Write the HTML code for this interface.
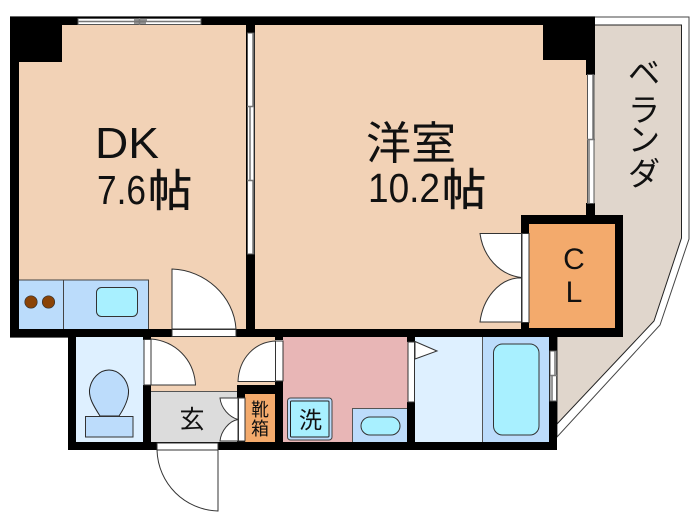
<!DOCTYPE html>
<html lang="ja">
<head>
<meta charset="utf-8">
<title>Floor plan</title>
<style>
html,body{margin:0;padding:0;background:#fff;width:700px;height:525px;overflow:hidden}
svg{display:block}
text{font-family:"Liberation Sans","Noto Sans CJK JP",sans-serif;fill:#111}
.j{font-family:"Noto Sans CJK JP","Liberation Sans",sans-serif}
</style>
</head>
<body>
<svg width="700" height="525" viewBox="0 0 700 525" xmlns="http://www.w3.org/2000/svg">
<rect width="700" height="525" fill="#fff"/>

<!-- balcony -->
<path d="M595 17H689V239L660 325L557 437V17Z" fill="#fff" stroke="#444" stroke-width="1"/>
<path d="M595 25H681.500V238L654 321L557 424V25Z" fill="#e0d6cc" stroke="#222" stroke-width="1"/>

<!-- rooms -->
<rect x="19" y="25" width="228" height="305" fill="#f2d2b6"/>
<rect x="254" y="25" width="333" height="305" fill="#f2d2b6"/>
<rect x="529" y="224" width="86" height="104" fill="#f3aa6c"/>
<rect x="75" y="337" width="69" height="105" fill="#def0ff"/>
<rect x="151" y="337" width="125" height="55" fill="#f2d2b6"/>
<rect x="151" y="391" width="87" height="51" fill="#dcdcdc"/>
<line x1="151" y1="391.500" x2="238" y2="391.500" stroke="#555"/>
<rect x="245" y="394" width="30" height="48" fill="#f3aa6c"/>
<rect x="283" y="337" width="125" height="105" fill="#e8b6b6"/>
<rect x="415" y="337" width="68" height="105" fill="#def0ff"/>
<rect x="482" y="337" width="67" height="105" fill="#bcdcfb"/>
<line x1="482.500" y1="337" x2="482.500" y2="442" stroke="#555" stroke-width="1"/>

<!-- walls -->
<g fill="#000">
<rect x="10" y="17" width="585" height="8"/>
<rect x="10" y="17" width="9" height="320"/>
<rect x="10" y="17" width="52" height="45"/>
<rect x="543" y="17" width="52" height="43"/>
<rect x="586" y="17" width="9" height="58"/>
<rect x="586" y="203" width="9" height="13"/>
<rect x="246" y="25" width="9" height="305"/>
<rect x="10" y="329" width="520" height="8"/>
<path d="M521 215H623V337H521ZM529 224V328H615V224Z" fill-rule="evenodd"/>
<rect x="68" y="337" width="8" height="113"/>
<rect x="68" y="442" width="489" height="8"/>
<rect x="143" y="385" width="8" height="65"/>
<rect x="237" y="385" width="46" height="9"/>
<rect x="237" y="385" width="8" height="13"/>
<rect x="237" y="441" width="8" height="9"/>
<rect x="275" y="381" width="8" height="69"/>
<rect x="407" y="402" width="8" height="48"/>
<rect x="407" y="337" width="8" height="5"/>
<rect x="549" y="337" width="8" height="113"/>
<rect x="143" y="337" width="8" height="3"/>
<rect x="275" y="337" width="8" height="3"/>
</g>
<line x1="10" y1="16.500" x2="595" y2="16.500" stroke="#666"/>
<line x1="10" y1="337.500" x2="68" y2="337.500" stroke="#666"/>

<!-- windows -->
<g fill="#fff" stroke="#555" stroke-width="1">
<rect x="78" y="18.500" width="123" height="6"/>
<rect x="247.500" y="33" width="6.500" height="221"/>
<rect x="587.500" y="74.500" width="6.500" height="129"/>
<rect x="550" y="351" width="6.500" height="50"/>
</g>
<g stroke="#777" stroke-width="1.500" fill="none">
<path d="M78 21.500H139M140 21.500H201"/>
<path d="M139.500 18V25M134 20H147M134 23H146"/>
<path d="M253 33V106M250 107V180M253 180V254"/>
<path d="M247 106.500H254M247 180.500H254"/>
<path d="M593 75V139M589 139V203M587 139.500H595"/>
<path d="M555 351V376M552 376V401M550 375.500H557"/>
</g>

<!-- kitchen -->
<rect x="19" y="280" width="129" height="49" fill="#bbdcfb"/>
<path d="M19 280H148.500V329M63.500 280V329" fill="none" stroke="#444" stroke-width="1"/>
<circle cx="31" cy="302" r="6.200" fill="#8a4306" stroke="#333" stroke-width="0.700"/>
<circle cx="48.500" cy="302" r="6.200" fill="#8a4306" stroke="#333" stroke-width="0.700"/>
<rect x="96.500" y="287.500" width="41" height="29" rx="5" fill="#a8f0ff" stroke="#333" stroke-width="1"/>

<!-- doors -->
<g fill="#fff" stroke="#333" stroke-width="1">
<rect x="172" y="329.500" width="64" height="7"/>
<path d="M172 329V269C205 270 234 296 236 329Z"/>
<rect x="144" y="339.500" width="7" height="45.500"/>
<path d="M151 385V339C175 341 194 359 195.500 385Z"/>
<rect x="275.500" y="341" width="7.500" height="40"/>
<path d="M275.500 381.500V341C255 342 239 358 238 381.500Z"/>
<rect x="408" y="342" width="6.500" height="60"/>
<path d="M415 341.500L437 351L415 359Z"/>
<rect x="522" y="233.500" width="7" height="89"/>
<path d="M521.500 233.500H480C483 256 499 275 521.500 277.500Z"/>
<path d="M521.500 278H517C499 280 483 298 480 322H521.500Z"/>
<rect x="238.500" y="398" width="6.500" height="43"/>
<path d="M238 398H220C221 408 229 417 238 419.500Z"/>
<path d="M238 419.500C229 421 221 431 220 441H238Z"/>
<rect x="157" y="443" width="61" height="7"/>
<path d="M218 450V511C185 510 158 484 157 450Z"/>
</g>

<!-- toilet -->
<path d="M100 416C93 405 89 398 89.500 390C91 378 100 370 109 370C118 370 127 378 128.500 390C129 398 125 407 119 416Z" fill="#bcdcfb" stroke="#222" stroke-width="1"/>
<rect x="85.500" y="416.500" width="47.500" height="20.500" fill="#bcdcfb" stroke="#333" stroke-width="1"/>

<!-- washer and basin -->
<rect x="287.500" y="398" width="44.500" height="42" rx="3" fill="#bcdcfb" stroke="#444" stroke-width="1"/>
<rect x="290.500" y="401" width="38.500" height="36" rx="1" fill="#a8f0ff" stroke="#222" stroke-width="1"/>
<rect x="352.500" y="408.500" width="54.500" height="33.500" fill="#bcdcfb"/>
<path d="M352.500 442V408.500H407" fill="none" stroke="#555" stroke-width="1"/>
<rect x="361" y="417" width="39" height="18" rx="9" fill="#a8f0ff" stroke="#333" stroke-width="1"/>

<!-- bath -->
<rect x="493.500" y="344" width="45.500" height="91" rx="9" fill="#a8f0ff" stroke="#333" stroke-width="1"/>

<!-- labels -->
<text x="95" y="158" font-size="44" textLength="64" lengthAdjust="spacingAndGlyphs">DK</text>
<text x="97" y="204" font-size="41" textLength="49" lengthAdjust="spacingAndGlyphs">7.6</text>
<text class="j" x="148" y="206" font-size="44" stroke="#111" stroke-width="0.600">帖</text>
<text class="j" x="366" y="159" font-size="45">洋室</text>
<text x="368" y="202" font-size="41" textLength="72" lengthAdjust="spacingAndGlyphs">10.2</text>
<text class="j" x="442" y="205" font-size="44" stroke="#111" stroke-width="0.600">帖</text>
<text class="j" x="644" y="84" font-size="32" text-anchor="middle">ベ</text>
<text class="j" x="644" y="121" font-size="32" text-anchor="middle">ラ</text>
<text class="j" x="644" y="151" font-size="32" text-anchor="middle">ン</text>
<text class="j" x="644" y="185" font-size="32" text-anchor="middle">ダ</text>
<text x="574" y="269" font-size="30" text-anchor="middle">C</text>
<text x="574" y="302" font-size="30" text-anchor="middle">L</text>
<text class="j" x="192" y="428" font-size="25" text-anchor="middle">玄</text>
<text class="j" x="260" y="416" font-size="18" text-anchor="middle">靴</text>
<text class="j" x="260" y="435" font-size="18" text-anchor="middle">箱</text>
<text class="j" x="310.500" y="428" font-size="23" text-anchor="middle">洗</text>
</svg>
</body>
</html>
